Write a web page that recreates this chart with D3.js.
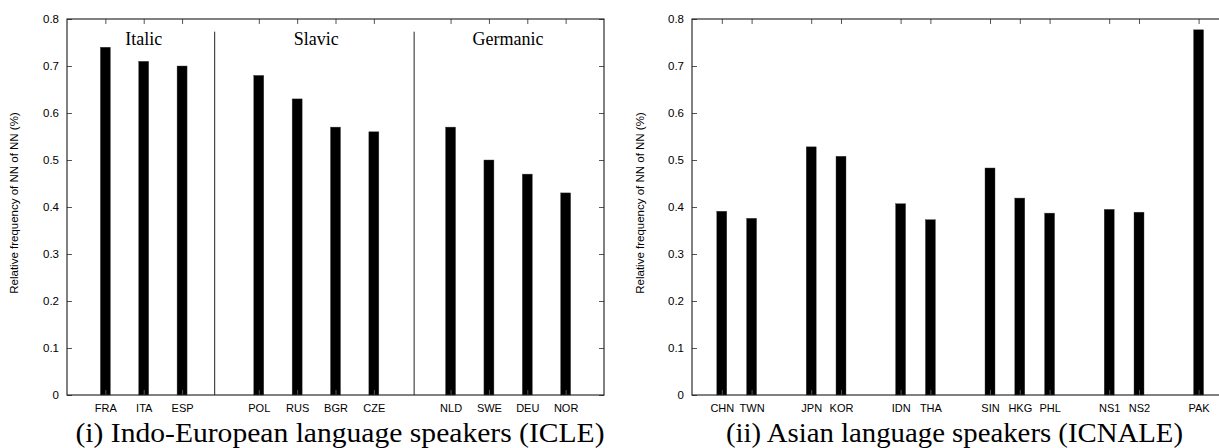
<!DOCTYPE html>
<html>
<head>
<meta charset="utf-8">
<script src="https://cdn.jsdelivr.net/npm/d3@7"></script>
<style>
  html, body { margin: 0; padding: 0; background: #fff; }
  svg { display: block; }
</style>
</head>
<body>
<svg id="chart" width="1219" height="448"></svg>
<script>
// ---- data ----
const leftCategories = ["FRA", "ITA", "ESP", "POL", "RUS", "BGR", "CZE", "NLD", "SWE", "DEU", "NOR"];
const leftPositions  = [1, 2, 3, 5, 6, 7, 8, 10, 11, 12, 13];
const leftValues     = [0.74, 0.71, 0.70, 0.68, 0.63, 0.57, 0.56, 0.57, 0.50, 0.47, 0.43];
const leftGroups     = ["Italic", "Slavic", "Germanic"];
const leftGroupCenters = [2, 6.5, 11.5];
const leftDividers   = [3.85, 9.05];

const rightCategories = ["CHN", "TWN", "JPN", "KOR", "IDN", "THA", "SIN", "HKG", "PHL", "NS1", "NS2", "PAK"];
const rightPositions  = [1, 2, 4, 5, 7, 8, 10, 11, 12, 14, 15, 17];
const rightValues     = [0.391, 0.376, 0.528, 0.508, 0.407, 0.373, 0.483, 0.419, 0.387, 0.395, 0.389, 0.777];

const yTicks = [0, 0.1, 0.2, 0.3, 0.4, 0.5, 0.6, 0.7, 0.8];
const yLabel = "Relative frequency of NN of NN (%)";
const captions = ["(i) Indo-European language speakers (ICLE)", "(ii) Asian language speakers (ICNALE)"];

// ---- drawing ----
const svg = d3.select("#chart");
const plotTop = 19, plotBottom = 395;
const y = d3.scaleLinear().domain([0, 0.8]).range([plotBottom, plotTop]);
const frameColor = "#1a1a1a";
const tickFmt = d => d === 0 ? "0" : d3.format(".1f")(d);

function panel(opts) {
  const x = d3.scaleLinear().domain(opts.domain).range(opts.range);
  const g = svg.append("g");
  const x0 = opts.range[0], x1 = opts.range[1];
  const barW = 10;

  // bars
  g.selectAll("rect.bar").data(opts.values).enter().append("rect")
    .attr("class", "bar")
    .attr("x", (d, i) => x(opts.positions[i]) - barW / 2)
    .attr("y", d => y(d))
    .attr("width", barW)
    .attr("height", d => plotBottom - y(d))
    .attr("fill", "#000")
    .attr("stroke", "#444")
    .attr("stroke-width", 0.4);

  // y axes (inward ticks)
  const yAxisL = d3.axisLeft(y).tickValues(yTicks).tickFormat(tickFmt).tickSizeInner(-5).tickSizeOuter(0).tickPadding(8);
  const gl = g.append("g").attr("transform", `translate(${x0},0)`).call(yAxisL);
  const yAxisR = d3.axisRight(y).tickValues(yTicks).tickFormat("").tickSizeInner(-5).tickSizeOuter(0);
  const gr = g.append("g").attr("transform", `translate(${x1},0)`).call(yAxisR);

  // x axes
  const xAxisB = d3.axisBottom(x).tickValues(opts.positions)
    .tickFormat((d, i) => opts.categories[i]).tickSizeInner(-5).tickSizeOuter(0).tickPadding(9);
  const gb = g.append("g").attr("transform", `translate(0,${plotBottom})`).call(xAxisB);
  const xAxisT = d3.axisTop(x).tickValues(opts.positions).tickFormat("").tickSizeInner(-5).tickSizeOuter(0);
  const gt = g.append("g").attr("transform", `translate(0,${plotTop})`).call(xAxisT);

  [gl, gr, gb, gt].forEach(a => {
    a.select(".domain").remove();
    a.selectAll(".tick line").attr("stroke", "#555").attr("stroke-width", 1);
    a.selectAll(".tick text").attr("fill", "#000")
      .style("font-family", "'Liberation Sans', Arial, sans-serif");
  });
  gl.selectAll(".tick text").style("font-size", "11.5px");
  gb.selectAll(".tick text").style("font-size", "11px");

  // frame
  g.append("rect").attr("x", x0).attr("y", plotTop).attr("width", x1 - x0).attr("height", plotBottom - plotTop)
    .attr("fill", "none").attr("stroke", frameColor).attr("stroke-width", 1.1);

  // y label
  g.append("text")
    .attr("transform", `translate(${opts.yLabelX},${(plotTop + plotBottom) / 2 - 4}) rotate(-90)`)
    .attr("text-anchor", "middle")
    .attr("dominant-baseline", "middle")
    .style("font-family", "'Liberation Sans', Arial, sans-serif")
    .style("font-size", "11.5px")
    .text(yLabel);

  // caption
  g.append("text")
    .attr("x", opts.captionX).attr("y", 442)
    .attr("text-anchor", "middle")
    .attr("textLength", opts.captionW)
    .attr("lengthAdjust", "spacingAndGlyphs")
    .style("font-family", "'Liberation Serif', 'Times New Roman', serif")
    .style("font-size", "27px")
    .text(opts.caption);

  return { g, x };
}

// left panel
const L = panel({
  domain: [0, 14], range: [67, 604],
  positions: leftPositions, values: leftValues, categories: leftCategories,
  yLabelX: 15, captionX: 340, captionW: 529, caption: captions[0]
});
L.g.selectAll("line.divider").data(leftDividers).enter().append("line")
  .attr("class", "divider")
  .attr("x1", d => L.x(d)).attr("x2", d => L.x(d))
  .attr("y1", y(0.773)).attr("y2", plotBottom)
  .attr("stroke", "#222").attr("stroke-width", 1);
L.g.selectAll("text.group").data(leftGroups).enter().append("text")
  .attr("class", "group")
  .attr("x", (d, i) => L.x(leftGroupCenters[i]))
  .attr("y", y(0.745))
  .attr("text-anchor", "middle")
  .style("font-family", "'Liberation Serif', 'Times New Roman', serif")
  .style("font-size", "18px")
  .text(d => d);

// right panel
const R = panel({
  domain: [0, 18], range: [692, 692 + 29.8 * 18],
  positions: rightPositions, values: rightValues, categories: rightCategories,
  yLabelX: 641, captionX: 954.5, captionW: 457, caption: captions[1]
});
</script>
</body>
</html>
